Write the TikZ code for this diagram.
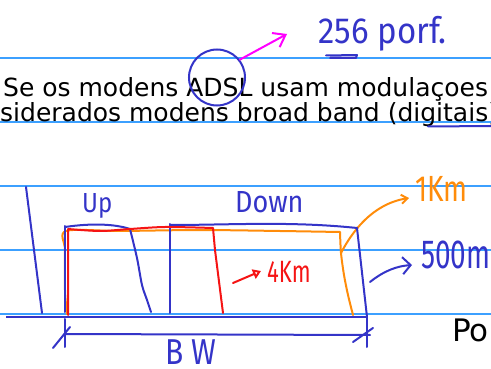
\documentclass[tikz,border=0pt]{standalone}
\usepackage{graphicx}
\usepackage{fontspec}
\setmainfont{DejaVu Sans}
\newfontfamily\handfont{Fira Sans}
\usetikzlibrary{arrows.meta}
\definecolor{rulecol}{RGB}{60,160,255}
\definecolor{inkblue}{RGB}{52,52,200}
\definecolor{inkred}{RGB}{245,20,20}
\definecolor{inkorange}{RGB}{255,140,10}
\definecolor{inkmag}{RGB}{255,0,255}
\tikzset{
  ruleline/.style={rulecol, line width=1.1pt},
  ink/.style={line width=2pt, line cap=round, line join=round},
  txt/.style={inner sep=0pt, anchor=base west, font=\fontsize{25}{25}\selectfont},
  hand/.style={inner sep=0pt, anchor=base west},
}
\newcommand{\hw}[3]{\scalebox{1}[#2]{\handfont\fontsize{#1}{#1}\selectfont #3}}
\begin{document}
\begin{tikzpicture}[x=1pt,y=-1pt]
\useasboundingbox (0,0) rectangle (491,369);
% ruled lines
\foreach \yy in {58,122,186,250,314} \draw[ruleline] (0,\yy) -- (491,\yy);
% typed text
\node[txt] (l1) at (3,97) {Se os modens ADSL usam modulaçoes};
\node[txt] (l2) at (0,122) {siderados modens broad band (digitais)};
\node[txt, font=\fontsize{31}{31}\selectfont] (po) at (452,341.7) {Po};
% circle round ADSL and magenta arrow
\node[circle, draw=inkblue, line width=2pt, minimum size=56pt, inner sep=0pt] (adsl) at (217,77.5) {};
\coordinate (mtip) at (287,34);
\draw[ink, inkmag, -{Straight Barb[length=11pt,width=16pt]}] (adsl.38) -- (mtip);
\node[hand, inkblue] (porf) at (318,44) {\hw{33}{1.1}{256 porf.}};
\draw[ink, inkblue] (326,55.5) -- (357,55) -- (356,58) -- (330,58);
\draw[ink, inkblue] (428,126.5) -- (491,126);
% sketch: left slash and axis
\draw[ink, inkblue] (26,187) -- (42,313);
\draw[inkblue, line width=2.6pt] (6,317) -- (368,317);
% orange curve
\draw[ink, inkorange] plot[smooth, tension=0.5] coordinates {(67,314) (65,290) (65,250) (66,231) (120,231) (200,230) (280,231) (340,232)}
  plot[smooth, tension=0.5] coordinates {(340,232) (341,253) (344,275) (348,295) (353,315)};
\coordinate (obranch) at (341,253);
\coordinate (otip) at (409,198);
\draw[ink, inkorange, -{Straight Barb[length=6pt,width=9pt]}] (obranch) .. controls (352,232) and (372,204) .. (otip);
% Up box
\draw[ink, inkblue] (65,312) -- (65,226);
\draw[ink, inkblue] (65,227) .. controls (92,223) and (115,224) .. (130,229);
\draw[ink, inkblue] plot[smooth, tension=0.5] coordinates {(130,229) (137,258) (142,285) (147,300) (151,312)};
% Down box
\draw[ink, inkblue] (170,313) -- (170,224);
\draw[ink, inkblue] (170,225) .. controls (230,225) and (290,221) .. (357,228);
\draw[ink, inkblue] (357,228) -- (367,317);
% red
\draw[ink, inkred] plot[smooth, tension=0.5] coordinates {(68,315) (68,270) (68,229)}
  plot[smooth, tension=0.5] coordinates {(68,229) (100,231) (130,229) (165,227) (213,228)}
  -- (215,250) -- (223,313);
% BW dimension
\draw[ink, inkblue] (65,334) -- (370,335);
\draw[ink, inkblue] (65,319) -- (65,347);
\draw[ink, inkblue] (53,348) -- (70,327);
\draw[ink, inkblue] (367,316) -- (367,347);
\draw[ink, inkblue] (353,342) -- (373,328);
% labels
\node[hand, inkblue] (up) at (82,213) {\hw{24}{1.15}{Up}};
\node[hand, inkblue] (down) at (235,212) {\hw{27}{1.13}{Down}};
\node[hand, inkred] (km4) at (267,283) {\hw{22}{1.4}{4Km}};
\node[hand, inkorange] (km1) at (415,202) {\hw{28}{1.3}{1Km}};
\node[hand, inkblue] (m500) at (421,269) {\hw{28}{1.45}{500m}};
\node[hand, inkblue] (bw) at (165,364) {\hw{30}{1.2}{B W}};
% arrows to labels
\coordinate (rtail) at (233,283);
\coordinate (rtip) at (261,271);
\draw[ink, inkred, -{Triangle[open,length=8pt,width=10pt]}] (rtail) -- (rtip);
\coordinate (btail) at (370,282);
\coordinate (btip) at (412,265);
\draw[ink, inkblue, -{Straight Barb[length=8pt,width=17pt]}] (btail) .. controls (385,270) and (398,266) .. (btip);
\end{tikzpicture}
\end{document}
